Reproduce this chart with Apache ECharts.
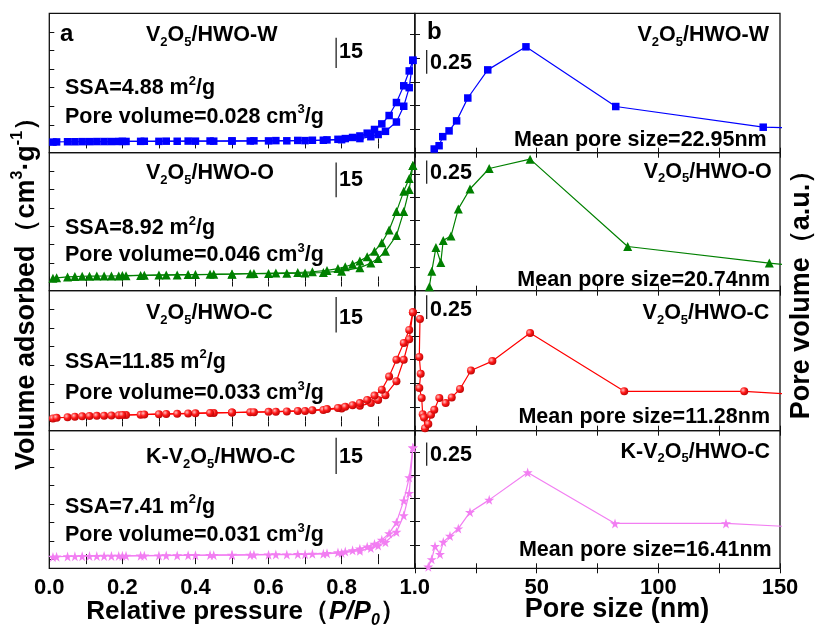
<!DOCTYPE html>
<html><head><meta charset="utf-8">
<script src="https://cdn.jsdelivr.net/npm/echarts@6/dist/echarts.min.js"></script>
<style>html,body{margin:0;padding:0;background:#fff}#c{width:818px;height:625px}</style>
</head><body><div id="c"></div>
<script>
// ---------- DATA ----------
const pressureAds = [0.01,0.02,0.05,0.07,0.09,0.11,0.13,0.15,0.17,0.19,0.21,0.25,0.30,0.35,0.40,0.45,0.50,0.55,0.60,0.65,0.70,0.75,0.80,0.85,0.88,0.90,0.92,0.95,0.97,0.985,0.995];
const pressureDes = [0.995,0.985,0.97,0.95,0.93,0.91,0.89,0.87,0.85,0.83,0.81,0.79,0.76,0.72,0.68,0.62,0.56,0.50,0.44,0.38,0.32,0.26,0.20];

const adsW = [0.7,0.8,0.9,0.9,0.95,0.95,1.0,1.0,1.0,1.05,1.05,1.1,1.1,1.15,1.2,1.2,1.25,1.3,1.35,1.4,1.5,1.7,2.0,2.6,3.6,4.8,6.5,11.5,20,30,44.7];
const desW = [44.7,39,31,22,15,10.5,7.5,5.5,4.0,3.2,2.6,2.2,1.9,1.7,1.6,1.5,1.4,1.35,1.3,1.25,1.2,1.15,1.1];
const adsO = [1.7,2.0,2.5,2.7,2.85,2.9,2.95,3.0,3.0,3.05,3.1,3.3,3.5,3.6,3.75,3.9,4.0,4.2,4.3,4.45,4.6,4.9,5.6,7.5,10,12.5,16.5,25,38,50,63];
const desO = [63,56,49,38,28,21,16.5,13.5,11.2,9.4,8,7.0,6.0,5.3,4.9,4.6,4.35,4.1,3.9,3.75,3.6,3.4,3.2];
const adsC = [1.6,1.9,2.2,2.5,2.7,2.85,2.95,3.05,3.15,3.25,3.35,3.55,3.85,4.05,4.3,4.5,4.7,4.9,5.1,5.35,5.6,6.1,6.9,8.3,9.8,11.5,14,21.5,33,44,58.5];
const desC = [58.5,49,42,33,24,17,13.8,11.5,9.8,8.7,7.8,7.2,6.6,6.0,5.6,5.2,4.95,4.75,4.5,4.25,4.0,3.7,3.4];
const adsK = [1.2,1.3,1.45,1.55,1.6,1.65,1.65,1.7,1.7,1.75,1.8,1.85,1.95,2.0,2.1,2.15,2.2,2.3,2.4,2.5,2.6,2.9,3.4,4.6,6.0,7.4,9.2,14.8,23.8,36,60.7];
const desK = [60.7,44.5,31.9,20,14,10.5,8.3,6.8,5.7,4.8,4.1,3.6,3.2,2.9,2.7,2.55,2.4,2.3,2.2,2.1,2.0,1.9,1.8];

const poreW = [7.9,9.9,11.4,14.0,17.1,21.7,29.9,45.6,82.5,143.1,200];
const volW  = [0.039,0.074,0.170,0.231,0.337,0.579,0.877,1.121,0.489,0.270,0.236];
const poreO = [5.9,6.9,8.6,10.6,11.6,14.8,17.8,22.6,30.5,47.3,87.4,145.6,200];
const volO  = [0.043,0.209,0.461,0.301,0.538,0.584,0.875,1.088,1.307,1.407,0.473,0.295,0.16];
const poreC = [2.05,1.77,2.34,1.77,2.75,3.16,3.70,4.11,5.47,6.58,7.93,9.99,12.6,15.1,18.5,23.0,31.8,47.3,86.0,135.3,200];
const volC  = [1.178,0.777,0.600,0.451,0.345,0.174,0.138,0.026,0.071,0.167,0.220,0.345,0.291,0.351,0.440,0.635,0.734,1.029,0.415,0.415,0.31];
const poreK = [5.47,6.86,8.22,10.27,11.63,14.38,17.79,22.6,30.5,46.3,82.2,127.8,200];
const volK  = [0.017,0.096,0.237,0.152,0.283,0.347,0.426,0.602,0.734,1.028,0.481,0.481,0.387];

const sampleNames = [['','V2O5/HWO-W'],['','V2O5/HWO-O'],['','V2O5/HWO-C'],['K-','V2O5/HWO-C']];
const ssaValues = ['4.88','8.92','11.85','7.41'];
const poreVolumes = ['0.028','0.046','0.033','0.031'];
const meanPoreSizes = ['22.95','20.74','11.28','16.41'];
const xTicksLeft = ['0.0','0.2','0.4','0.6','0.8','1.0'];
const xTicksRight = ['50','100','150'];
// scale bars (label "15" on isotherms, "0.25" on pore-size curves), start and end in axis units
const barLeftX = 0.785, barLeftStart = [40.6,45.8,47.6,46.4], barLeftEnd = [56.8,64.7,66.6,66.1];
const barRightX = 4.8, barRightStart = [0.837,1.143,1.178,1.099], barRightEnd = [1.087,1.393,1.428,1.349];

// ---------- STYLE ----------
const FONT = "'Liberation Sans', Arial, sans-serif";
const colors = ['#0000ff','#008000','#ff0000','#f27ef2'];
const starPath = 'path://M50,0 L61,35 L98,35 L68,57 L79,91 L50,70 L21,91 L32,57 L2,35 L39,35 Z';
const sphere = {type:'radial',x:0.35,y:0.35,r:0.75,colorStops:[{offset:0,color:'#ffc0c0'},{offset:0.45,color:'#ff1a1a'},{offset:1,color:'#b00000'}]};
const symbols = ['rect','triangle','circle',starPath];
const symSizes = [7.5,9,8,10];
const markerColors = [colors[0],colors[1],sphere,colors[3]];

const tops = [13.3,152.7,290.7,430.7];
const heights = [139.4,138,140,137.6];
const L_LEFT = 49.3, L_W = 365.4, R_LEFT = 415, R_W = 365;

const grids = [], xAxes = [], yAxes = [], series = [];
for (let i=0;i<4;i++) grids.push({left:L_LEFT, top:tops[i], width:L_W, height:heights[i], show:true, borderColor:'#111', borderWidth:1.3});
for (let i=0;i<4;i++) grids.push({left:R_LEFT, top:tops[i], width:R_W, height:heights[i], show:true, borderColor:'#111', borderWidth:1.3});

const tickStyle = {show:true, inside:true, length:5, lineStyle:{color:'#111', width:1}};
const labelFont = {fontFamily:FONT, fontWeight:'bold', fontSize:22, color:'#000'};
for (let k=0;k<8;k++){
  const isLeft = k<4, isBottom = (k===3||k===7);
  const base = isLeft ? {min:0,max:1,interval:0.2} : {min:0,max:150,interval:50};
  xAxes.push(Object.assign({type:'value', gridIndex:k, position:'bottom', axisLine:{show:false},
    axisTick:tickStyle, minorTick:{show:true,splitNumber:2,length:5,lineStyle:{color:'#111',width:1}},
    splitLine:{show:false},
    axisLabel:{show:isBottom, margin:9, ...labelFont,
      formatter: isLeft ? (v)=>xTicksLeft[Math.round(v/0.2)] : (v)=> (v===0?'':xTicksRight[Math.round(v/50)-1])}}, base));
}
for (let k=0;k<8;k++){
  const isLeft = k<4;
  const base = isLeft ? {min:0,max:1,interval:0.2} : {min:0,max:150,interval:50};
  xAxes.push(Object.assign({type:'value', gridIndex:k, position:'top', axisLine:{show:false},
    axisTick:tickStyle, minorTick:{show:true,splitNumber:2,length:5,lineStyle:{color:'#111',width:1}},
    splitLine:{show:false}, axisLabel:{show:false}}, base));
}
for (let k=0;k<8;k++){
  const isLeft = k<4;
  const base = isLeft ? {min:-5,max:70,splitNumber:8} : {min:0,max:1.476,interval:0.25};
  yAxes.push(Object.assign({type:'value', gridIndex:k, position:'left', axisLine:{show:false},
    axisTick:tickStyle, splitLine:{show:false}, axisLabel:{show:false}}, base));
}
for (let k=0;k<8;k++){
  const isLeft = k<4;
  const base = isLeft ? {min:-5,max:70,splitNumber:8} : {min:0,max:1.476,interval:0.25};
  yAxes.push(Object.assign({type:'value', gridIndex:k, position:'right', axisLine:{show:false},
    axisTick: isLeft ? {show:false} : tickStyle, splitLine:{show:false}, axisLabel:{show:false}}, base));
}

const adsAll = [adsW,adsO,adsC,adsK], desAll = [desW,desO,desC,desK];
const poreAll = [poreW,poreO,poreC,poreK], volAll = [volW,volO,volC,volK];
for (let i=0;i<4;i++){
  const common = {type:'line', symbol:symbols[i], symbolSize:symSizes[i], clip:true, animation:false,
    lineStyle:{color:colors[i], width:1.2}, itemStyle:{color:markerColors[i], borderWidth:0}, z:3};
  series.push(Object.assign({}, common, {xAxisIndex:i, yAxisIndex:i, data: pressureAds.map((p,j)=>[p, adsAll[i][j]])}));
  series.push(Object.assign({}, common, {xAxisIndex:i, yAxisIndex:i, data: pressureDes.map((p,j)=>[p, desAll[i][j]])}));
  series.push(Object.assign({}, common, {xAxisIndex:4+i, yAxisIndex:4+i, data: poreAll[i].map((d,j)=>[d, volAll[i][j]])}));
  // scale bars
  series.push({type:'line', xAxisIndex:i, yAxisIndex:i, symbol:'none', animation:false, lineStyle:{color:'#222',width:1.3},
    data:[[barLeftX, barLeftStart[i]],[barLeftX, barLeftEnd[i]]]});
  series.push({type:'line', xAxisIndex:4+i, yAxisIndex:4+i, symbol:'none', animation:false, lineStyle:{color:'#222',width:1.3},
    data:[[barRightX, barRightStart[i]],[barRightX, barRightEnd[i]]]});
}

// ---------- TEXT ----------
const FS = 21.5;
const rich = {
  t:{fontFamily:FONT,fontWeight:'bold',fontSize:FS,lineHeight:27,fill:'#000'},
  s:{fontFamily:FONT,fontWeight:'bold',fontSize:13,lineHeight:13,verticalAlign:'bottom',fill:'#000'},
  p:{fontFamily:FONT,fontWeight:'bold',fontSize:13,lineHeight:13,verticalAlign:'top',fill:'#000'},
  a:{fontFamily:FONT,fontWeight:'bold',fontSize:24,fill:'#000'},
  ax:{fontFamily:FONT,fontWeight:'bold',fontSize:27,lineHeight:34,fill:'#000'},
  axi:{fontFamily:FONT,fontWeight:'bold',fontStyle:'italic',fontSize:27,lineHeight:34,fill:'#000'},
  axs:{fontFamily:FONT,fontWeight:'bold',fontStyle:'italic',fontSize:16,lineHeight:24,verticalAlign:'bottom',fill:'#000'},
  axp:{fontFamily:FONT,fontWeight:'bold',fontSize:16,lineHeight:16,verticalAlign:'top',fill:'#000'},
  bx:{fontFamily:FONT,fontWeight:'bold',fontSize:26,lineHeight:34,fill:'#000'},
  bxi:{fontFamily:FONT,fontWeight:'bold',fontStyle:'italic',fontSize:26,lineHeight:34,fill:'#000'},
  bxs:{fontFamily:FONT,fontWeight:'bold',fontStyle:'italic',fontSize:16,lineHeight:24,verticalAlign:'bottom',fill:'#000'}
};
function titleRich(pre){ return (pre?'{t|'+pre+'}':'') + '{t|V}{s|2}{t|O}{s|5}{t|/HWO-}'; }
const suffix = ['W','O','C','C'];
const g = [];
function txt(x,y,text,align,opts){
  g.push(Object.assign({type:'text', x:x, y:y, z:100, style:Object.assign({text:text, rich:rich, textAlign:align||'left', textVerticalAlign:'middle',
    fontFamily:FONT, fontWeight:'bold', fontSize:FS, fill:'#000'}, opts&&opts.style||{})}, opts&&opts.el||{}));
}
const leftTitleY = [35,173,313,457], ssaY = [88.3,228.3,361.7,506.7], pvY = [116.7,255,393.3,535];
const barLabelY = [51.7,180,318.3,456.7];
const rTitleY = [35,171.7,313.3,451.7], rTitleX = [769,771.7,769.3,770];
const meanY = [140,280,416.7,550], meanX = [766.7,770,770,771.7];
const rBarLabelY = [63.3,173.3,310,455];
for (let i=0;i<4;i++){
  const tr = titleRich(sampleNames[i][0]) + '{t|'+suffix[i]+'}';
  txt(146, leftTitleY[i], tr, 'left');
  txt(65, ssaY[i], '{t|SSA='+ssaValues[i]+' m}{p|2}{t|/g}', 'left');
  txt(65, pvY[i], '{t|Pore volume='+poreVolumes[i]+' cm}{p|3}{t|/g}', 'left');
  txt(339, barLabelY[i], '{t|15}', 'left');
  txt(rTitleX[i], rTitleY[i], tr, 'right');
  txt(meanX[i], meanY[i], '{t|Mean pore size='+meanPoreSizes[i]+'nm}', 'right');
  txt(430, rBarLabelY[i], '{t|0.25}', 'left');
}
txt(60, 34, '{a|a}', 'left');
txt(427, 32, '{a|b}', 'left');
txt(246, 612, '{bx|Relative pressure（}{bxi|P/P}{bxs|0}{bx|）}', 'center');
txt(617, 610, '{ax|Pore size (nm)}', 'center');
txt(27, 287, '{ax|Volume adsorbed（cm}{axp|3}{ax|·g}{axp|-1}{ax|）}', 'center', {el:{rotation:Math.PI/2}});
txt(802, 288, '{ax|Pore volume（a.u.）}', 'center', {el:{rotation:Math.PI/2}});

const chart = echarts.init(document.getElementById('c'), null, {renderer:'canvas'});
chart.setOption({animation:false, backgroundColor:'#fff', grid:grids, xAxis:xAxes, yAxis:yAxes, series:series, graphic:g});
</script></body></html>
